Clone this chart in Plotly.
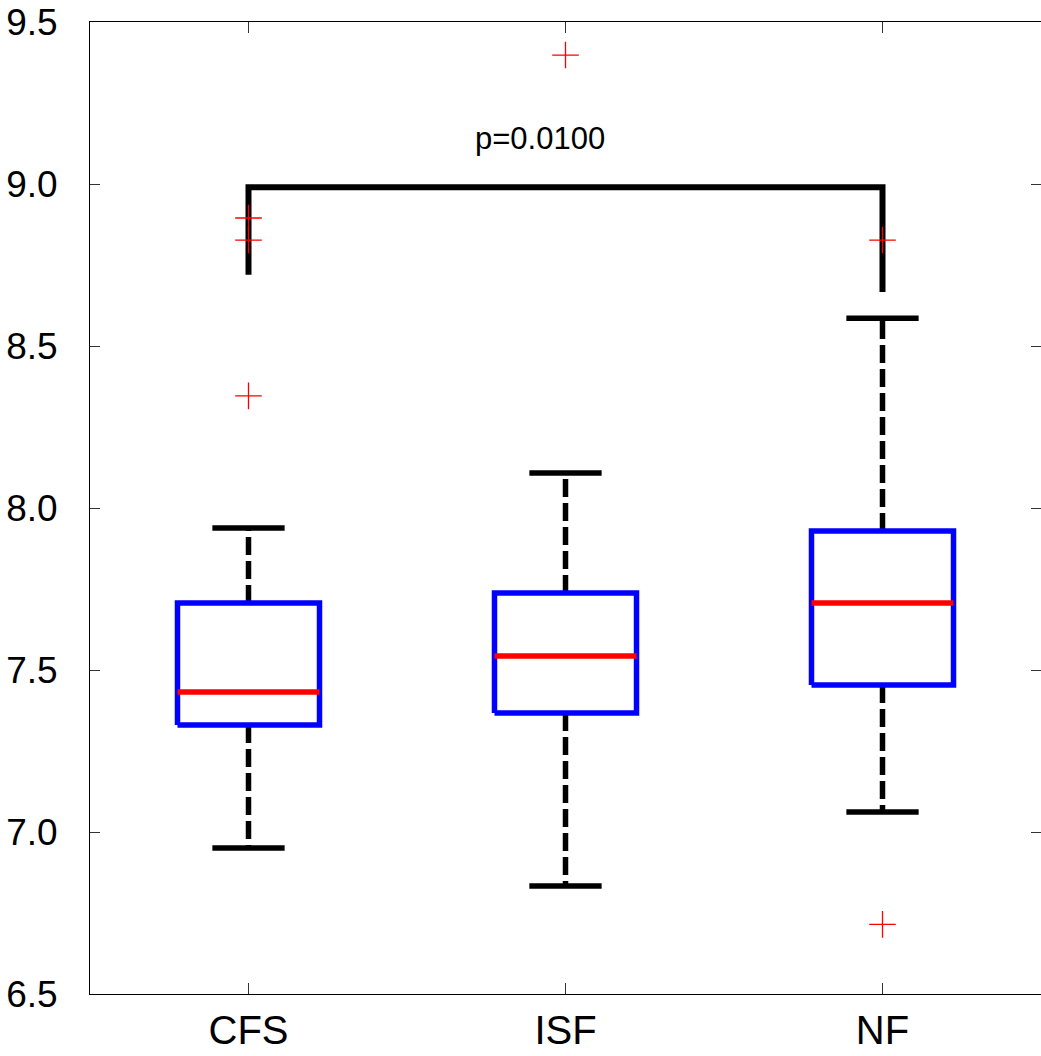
import plotly.graph_objects as go

# ---- data ----
groups = ["CFS", "ISF", "NF"]
positions = [1, 2, 3]
q1 = [7.330, 7.367, 7.454]
median = [7.432, 7.543, 7.707]
q3 = [7.707, 7.738, 7.929]
lower_whisker = [6.951, 6.833, 7.062]
upper_whisker = [7.938, 8.108, 8.586]
outliers = {
    "CFS": [8.346, 8.827, 8.895],
    "ISF": [9.398],
    "NF": [8.827, 6.715],
}
bracket_between = [1, 3]
bracket_top = 8.99
bracket_leg_ends = [8.72, 8.667]
p_label = "p=0.0100"
p_label_pos = (1.92, 9.14)
y_ticks = [6.5, 7.0, 7.5, 8.0, 8.5, 9.0, 9.5]

# ---- style ----
BOX_HALF = 0.224
CAP_HALF = 0.114
LW = 5.5
FONT = "Liberation Sans, Arial, sans-serif"

fig = go.Figure()

def line(xs, ys, color, width, dash="solid"):
    fig.add_trace(go.Scatter(x=xs, y=ys, mode="lines",
                             line=dict(color=color, width=width, dash=dash),
                             hoverinfo="skip", showlegend=False))

# whiskers
for p, a, b, lo, hi in zip(positions, q1, q3, lower_whisker, upper_whisker):
    line([p, p], [b, hi], "black", LW, "18px,6px")
    line([p, p], [a, lo], "black", LW, "18px,6px")
# caps
for p, lo, hi in zip(positions, lower_whisker, upper_whisker):
    line([p - CAP_HALF, p + CAP_HALF], [hi, hi], "black", LW)
    line([p - CAP_HALF, p + CAP_HALF], [lo, lo], "black", LW)
# boxes
for p, a, b in zip(positions, q1, q3):
    line([p - BOX_HALF, p + BOX_HALF, p + BOX_HALF, p - BOX_HALF, p - BOX_HALF],
         [a, a, b, b, a], "#0000ff", LW)
# medians
for p, m in zip(positions, median):
    line([p - BOX_HALF, p + BOX_HALF], [m, m], "#ff0000", LW)

# significance bracket
line([bracket_between[0], bracket_between[0], bracket_between[1], bracket_between[1]],
     [bracket_leg_ends[0], bracket_top, bracket_top, bracket_leg_ends[1]], "black", 6)

# outliers
ox, oy = [], []
for p, g in zip(positions, groups):
    for v in outliers[g]:
        ox.append(p)
        oy.append(v)
fig.add_trace(go.Scatter(x=ox, y=oy, mode="markers",
                         marker=dict(symbol="cross-thin", size=19,
                                     line=dict(color="#ff0000", width=1.3)),
                         hoverinfo="skip", showlegend=False))

fig.add_annotation(x=p_label_pos[0], y=p_label_pos[1], text=p_label,
                   showarrow=False, xanchor="center", yanchor="middle",
                   font=dict(family=FONT, size=31, color="black"))

fig.update_layout(
    width=1041, height=1056,
    margin=dict(l=90, r=0, t=22, b=62, autoexpand=False),
    paper_bgcolor="white", plot_bgcolor="white",
    font=dict(family=FONT, color="black"),
)
fig.update_xaxes(range=[0.5, 3.5], tickvals=positions, ticktext=groups,
                 showgrid=False, zeroline=False, automargin=False,
                 showline=True, linecolor="black", linewidth=1, mirror="ticks",
                 ticks="inside", ticklen=11, tickwidth=1, tickcolor="#333",
                 tickfont=dict(family=FONT, size=40, color="black"),
                 ticklabelstandoff=1)
fig.update_yaxes(range=[6.5, 9.5], tickvals=y_ticks, tickformat=".1f",
                 showgrid=False, zeroline=False, automargin=False,
                 showline=True, linecolor="black", linewidth=1, mirror="ticks",
                 ticks="inside", ticklen=10, tickwidth=1, tickcolor="#333",
                 tickfont=dict(family=FONT, size=37, color="black"),
                 ticklabelstandoff=24)

fig.write_html("out.html")
